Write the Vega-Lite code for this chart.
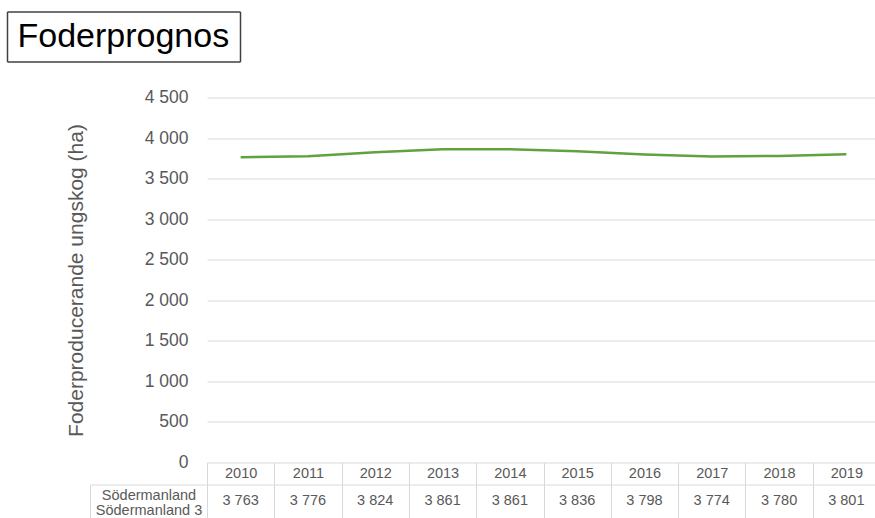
{
  "$schema": "https://vega.github.io/schema/vega-lite/v6.json",
  "padding": {"left": 6, "top": -5.5, "right": -6, "bottom": 0},
  "config": {
    "font": "Liberation Sans",
    "view": {"stroke": null},
    "locale": {"number": {"decimal": ",", "thousands": " ", "grouping": [3], "currency": ["", " kr"]}}
  },
  "data": {"values": [
    {"year": "2010", "value": 3763},
    {"year": "2011", "value": 3776},
    {"year": "2012", "value": 3824},
    {"year": "2013", "value": 3861},
    {"year": "2014", "value": 3861},
    {"year": "2015", "value": 3836},
    {"year": "2016", "value": 3798},
    {"year": "2017", "value": 3774},
    {"year": "2018", "value": 3780},
    {"year": "2019", "value": 3801}
  ]},
  "spacing": 26,
  "vconcat": [
    {
      "data": {"values": [{"t": "Foderprognos"}]},
      "width": 33,
      "height": 50,
      "mark": {"type": "text", "text": ""},
      "encoding": {
        "y": {
          "field": "t", "type": "nominal",
          "scale": {"type": "band", "paddingInner": 0, "paddingOuter": 0},
          "axis": {
            "title": null, "orient": "left", "offset": 200,
            "domain": true, "domainColor": "#404040", "domainWidth": 1.5,
            "ticks": true, "tickBand": "extent", "tickSize": -233, "tickColor": "#404040", "tickWidth": 1.5,
            "labelFontSize": 34, "labelColor": "#000000", "labelAlign": "left", "labelBaseline": "middle",
            "labelPadding": 223, "labelLimit": 0, "grid": false
          }
        },
        "x": {
          "datum": 1, "type": "quantitative",
          "scale": {"domain": [0, 1]},
          "axis": {"values": [1], "grid": true, "gridColor": "#404040", "gridWidth": 1.5, "labels": false, "ticks": false, "domain": false, "title": null}
        }
      }
    },
    {
      "bounds": "flush",
      "spacing": 22,
      "vconcat": [
        {
          "width": 673,
          "height": 365,
          "mark": {"type": "line", "color": "#5fa23e", "strokeWidth": 2.5},
          "encoding": {
            "x": {"field": "year", "type": "ordinal", "axis": null, "scale": {"type": "point", "padding": 0.5}},
            "y": {
              "field": "value", "type": "quantitative",
              "scale": {"domain": [0, 4500], "nice": false},
              "axis": {
                "values": [0, 500, 1000, 1500, 2000, 2500, 3000, 3500, 4000, 4500],
                "format": ",.0f", "grid": true, "gridColor": "#d9d9d9", "domain": false, "ticks": false,
                "labelFontSize": 17.5, "labelColor": "#595959", "labelPadding": 19,
                "title": "Foderproducerande ungskog (ha)", "titleFontSize": 21, "titleFontWeight": "normal",
                "titleColor": "#595959", "titlePadding": 58
              }
            }
          }
        },
        {
          "width": 673,
          "height": 33,
          "mark": {"type": "text", "fontSize": 14.5, "color": "#595959"},
          "encoding": {
            "x": {
              "field": "year", "type": "nominal",
              "scale": {"type": "band", "paddingInner": 0, "paddingOuter": 0},
              "axis": {
                "orient": "top", "title": null, "labelAngle": 0, "labelFontSize": 14.5, "labelColor": "#595959",
                "labelBaseline": "middle", "labelPadding": -11, "tickBand": "extent", "tickSize": 22,
                "tickColor": "#d9d9d9", "domainColor": "#d9d9d9", "grid": true, "gridColor": "#d9d9d9"
              }
            },
            "y": {
              "datum": "Södermanland", "type": "nominal",
              "scale": {"type": "band", "paddingInner": 0, "paddingOuter": 0},
              "axis": {
                "title": null, "orient": "left", "offset": 117, "domain": true, "domainColor": "#d9d9d9",
                "ticks": true, "tickSize": -117, "tickOffset": -16.5, "labelOffset": 10.5, "tickColor": "#d9d9d9",
                "labelExpr": "['Södermanland', 'Södermanland  3']",
                "labelAlign": "center", "labelBaseline": "middle", "labelPadding": 58.5,
                "labelFontSize": 14.5, "labelColor": "#595959", "labelLineHeight": 15, "grid": false
              }
            },
            "text": {"field": "value", "type": "quantitative", "format": ","}
          }
        }
      ]
    }
  ]
}
